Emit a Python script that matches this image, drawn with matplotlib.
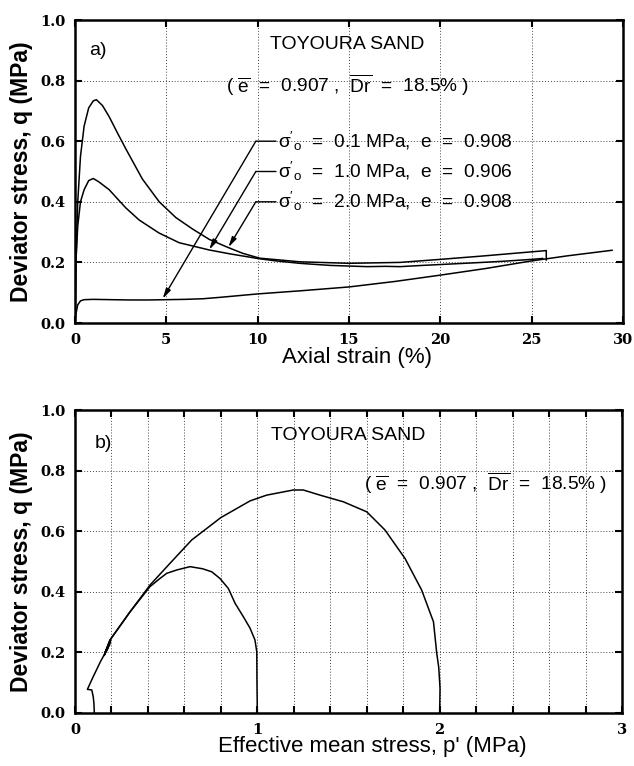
import numpy as np
import matplotlib
matplotlib.use("Agg")
import matplotlib.pyplot as plt
from matplotlib.ticker import MultipleLocator, FuncFormatter

plt.rcParams['font.family'] = ['Liberation Sans', 'DejaVu Sans']
plt.rcParams['mathtext.fontset'] = 'custom'
plt.rcParams['mathtext.rm'] = 'Liberation Sans'
plt.rcParams['mathtext.it'] = 'Liberation Sans:italic'
plt.rcParams['mathtext.bf'] = 'Liberation Sans:bold'

# (a) q vs axial strain
eps_01 = [0, 0.05, 0.15, 0.3, 0.5, 1, 2, 3, 4, 5, 6, 7, 8, 10, 12.5, 15, 17.5, 20, 22.5, 25, 27, 29.4]
q_01 = [0, 0.03, 0.06, 0.073, 0.077, 0.078, 0.077, 0.076, 0.076, 0.077, 0.078, 0.08, 0.085, 0.096,
        0.107, 0.119, 0.137, 0.158, 0.18, 0.205, 0.222, 0.24]

eps_10 = [0, 0.05, 0.15, 0.3, 0.5, 0.75, 1.0, 1.3, 1.87, 2.4, 2.78, 3.51, 4.6, 5.7, 7.35, 8.5, 10.1, 11,
          12.3, 13, 14, 15, 16, 17, 17.8, 19, 20, 21, 22.3, 23.5, 25, 25.6]
q_10 = [0, 0.2, 0.32, 0.4, 0.44, 0.47, 0.477, 0.466, 0.44, 0.405, 0.38, 0.34, 0.297, 0.265, 0.241, 0.228,
        0.212, 0.205, 0.197, 0.194, 0.19, 0.188, 0.186, 0.187, 0.186, 0.19, 0.193, 0.196, 0.2, 0.204,
        0.21, 0.213]

eps_20 = [0, 0.05, 0.15, 0.3, 0.5, 0.75, 1.0, 1.17, 1.5, 1.87, 2.3, 2.78, 3.69, 4.61, 5.52, 6.44, 7.35,
          8.27, 9.18, 10.1, 12.3, 15, 17.8, 20, 22.3, 25.8, 25.8]
q_20 = [0, 0.2, 0.4, 0.55, 0.65, 0.71, 0.733, 0.737, 0.718, 0.681, 0.63, 0.575, 0.475, 0.4, 0.348, 0.31,
        0.276, 0.252, 0.23, 0.214, 0.202, 0.197, 0.2, 0.21, 0.221, 0.239, 0.208]

# (b) q vs p'
p_01 = [0.106, 0.104, 0.1, 0.092, 0.068, 0.1, 0.14, 0.19, 0.195]
qp_01 = [0, 0.03, 0.054, 0.076, 0.078, 0.12, 0.17, 0.225, 0.24]

p_10 = [1.0, 0.998, 0.997, 0.987, 0.96, 0.923, 0.878, 0.841, 0.795, 0.75, 0.7, 0.631, 0.558, 0.503,
        0.466, 0.411, 0.36, 0.302, 0.25, 0.192, 0.16, 0.18]
qp_10 = [0, 0.1, 0.202, 0.241, 0.28, 0.318, 0.362, 0.411, 0.444, 0.466, 0.476, 0.483, 0.472, 0.461,
         0.444, 0.417, 0.378, 0.334, 0.29, 0.241, 0.19, 0.213]

p_20 = [2.0, 2.002, 1.995, 1.984, 1.966, 1.901, 1.81, 1.70, 1.6, 1.472, 1.344, 1.252, 1.197, 1.051,
        0.96, 0.8, 0.64, 0.521, 0.411, 0.302, 0.192, 0.165, 0.195, 0.175]
qp_20 = [0, 0.081, 0.15, 0.197, 0.301, 0.406, 0.51, 0.604, 0.664, 0.697, 0.719, 0.736, 0.736, 0.719,
         0.70, 0.645, 0.571, 0.494, 0.422, 0.334, 0.241, 0.2, 0.239, 0.208]

labels = [r"$\mathrm{\sigma}'_{\mathrm{o}}$  =  0.1 MPa,  e  =  0.908",
          r"$\mathrm{\sigma}'_{\mathrm{o}}$  =  1.0 MPa,  e  =  0.906",
          r"$\mathrm{\sigma}'_{\mathrm{o}}$  =  2.0 MPa,  e  =  0.908"]
label_y = [0.6, 0.5, 0.4]
arrow_tips = [(4.8, 0.08), (7.35, 0.242), (8.4, 0.25)]

info = r"( $\overline{\mathrm{e}}$  =  0.907 ,  $\overline{\mathrm{Dr}}$  =  18.5% )"

tickfont = dict(family='DejaVu Serif', weight='bold', size=10.5)

fig = plt.figure(figsize=(6.34, 7.66), dpi=100)
ax1 = fig.add_axes([75/634, 1-323/766, 548/634, 303/766])
ax2 = fig.add_axes([75/634, 1-713/766, 547/634, 303/766])

lw = 1.1
ax1.plot(eps_01, q_01, color='k', lw=lw)
ax1.plot(eps_10, q_10, color='k', lw=lw)
ax1.plot(eps_20, q_20, color='k', lw=lw)

ax2.plot(p_01, qp_01, color='k', lw=lw)
ax2.plot(p_10, qp_10, color='k', lw=lw)
ax2.plot(p_20, qp_20, color='k', lw=lw)

ax1.set_xlim(0, 30)
ax1.xaxis.set_major_locator(MultipleLocator(5))
ax1.set_xlabel("Axial strain (%)", fontsize=16)
ax1.xaxis.set_label_coords(0.514, -0.08)

ax2.set_xlim(0, 3)
ax2.xaxis.set_major_locator(MultipleLocator(0.2))
ax2.xaxis.set_major_formatter(FuncFormatter(
    lambda v, pos: f"{int(round(v))}" if abs(v - round(v)) < 1e-6 else ""))
ax2.set_xlabel("Effective mean stress, p' (MPa)", fontsize=16)
ax2.xaxis.set_label_coords(0.543, -0.075)

for ax in (ax1, ax2):
    ax.set_ylim(0, 1.0)
    ax.yaxis.set_major_locator(MultipleLocator(0.2))
    ax.yaxis.set_major_formatter(FuncFormatter(lambda v, pos: f"{v:.1f}"))
    ax.grid(True, linestyle=(0, (1, 2)), color='#444444', lw=0.7)
    ax.tick_params(direction='in', length=5, width=1.5, top=True, right=True, pad=7)
    for s in ax.spines.values():
        s.set_linewidth(1.8)
    ax.set_ylabel("Deviator stress, q (MPa)", fontsize=16.5, fontweight='bold', labelpad=5)
    for lab in ax.get_xticklabels() + ax.get_yticklabels():
        lab.set_fontproperties(tickfont)

ax1.text(0.75, 0.9, "a)", fontsize=14, va='center')
ax1.text(14.9, 0.92, "TOYOURA SAND", fontsize=14, ha='center', va='center')
ax1.text(14.9, 0.785, info, fontsize=13.8, ha='center', va='center')

for lab, y, tip in zip(labels, label_y, arrow_tips):
    ax1.text(11.1, y, lab, fontsize=13.8, ha='left', va='center')
    ax1.annotate("", xy=(11.0, y), xytext=(9.9, y),
                 arrowprops=dict(arrowstyle='-', color='k', lw=1.0, shrinkA=0, shrinkB=0))
    ax1.annotate("", xy=tip, xytext=(9.9, y),
                 arrowprops=dict(arrowstyle='-|>,head_length=0.6,head_width=0.15', color='k',
                                 lw=1.0, shrinkA=0, shrinkB=0))

ax2.text(0.11, 0.89, "b)", fontsize=14, va='center')
ax2.text(1.5, 0.915, "TOYOURA SAND", fontsize=14, ha='center', va='center')
ax2.text(2.25, 0.76, info, fontsize=13.8, ha='center', va='center')

fig.savefig("out.png", dpi=100)
